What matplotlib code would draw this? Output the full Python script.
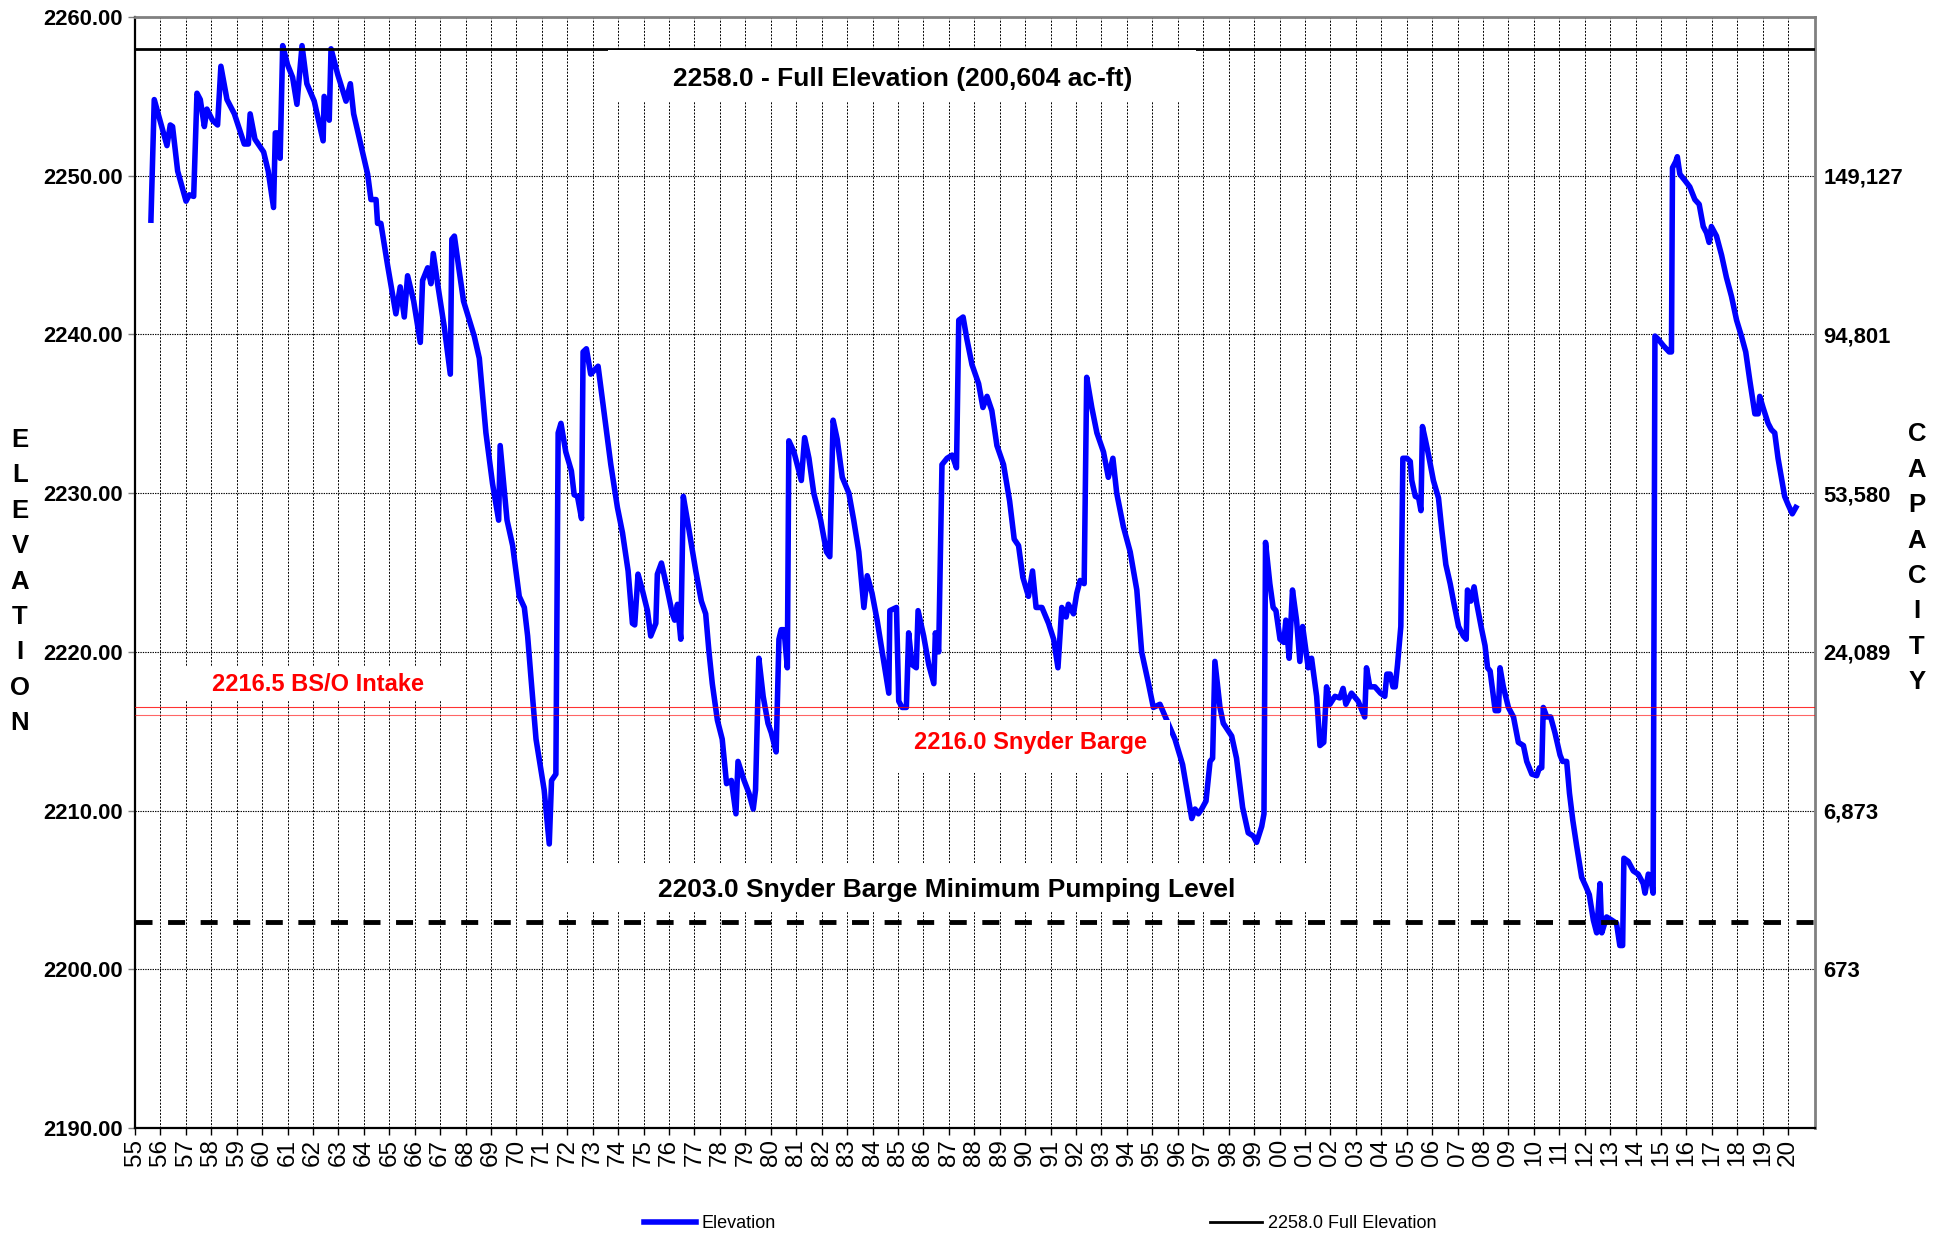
import matplotlib
matplotlib.use('Agg')
import matplotlib.pyplot as plt
from matplotlib.patches import Rectangle

plt.rcParams['font.family'] = ['Liberation Sans', 'DejaVu Sans']

# Lake elevation readings (decimal year, ft), split by period
yr_5571 = [1955.63, 1955.76, 1956.02, 1956.26, 1956.39, 1956.48, 1956.68, 1957.01, 1957.14, 1957.31,
           1957.44, 1957.57, 1957.73, 1957.83, 1958.05, 1958.25, 1958.38, 1958.62, 1958.91, 1959.30,
           1959.46, 1959.53, 1959.72, 1960.06, 1960.24, 1960.45, 1960.52, 1960.61, 1960.71, 1960.81,
           1961.00, 1961.20, 1961.37, 1961.57, 1961.76, 1962.05, 1962.40, 1962.44, 1962.64, 1962.71,
           1962.97, 1963.30, 1963.47, 1963.60, 1963.89, 1964.15, 1964.28, 1964.48, 1964.54, 1964.67,
           1964.93, 1965.26, 1965.43, 1965.59, 1965.72, 1965.96, 1966.22, 1966.31, 1966.51, 1966.64,
           1966.73, 1966.90, 1967.16, 1967.40, 1967.46, 1967.56, 1967.75, 1967.92, 1968.34, 1968.54,
           1968.80, 1969.06, 1969.30, 1969.36, 1969.63, 1969.85, 1970.11, 1970.31, 1970.44, 1970.57,
           1970.77, 1971.09, 1971.29, 1971.38, 1971.55, 1971.64, 1971.75]
el_5571 = [2247.2, 2254.8, 2253.3, 2251.9, 2253.2, 2253.1, 2250.3, 2248.4, 2248.8, 2248.7,
           2255.2, 2254.8, 2253.1, 2254.2, 2253.5, 2253.2, 2256.9, 2254.8, 2253.9, 2252.0,
           2252.0, 2253.9, 2252.3, 2251.5, 2250.3, 2248.0, 2252.7, 2252.7, 2251.1, 2258.2,
           2257.0, 2256.2, 2254.5, 2258.2, 2255.8, 2254.7, 2252.2, 2255.0, 2253.5, 2258.0,
           2256.4, 2254.7, 2255.8, 2253.9, 2251.9, 2250.1, 2248.5, 2248.5, 2247.0, 2247.0,
           2244.4, 2241.3, 2243.0, 2241.1, 2243.7, 2242.1, 2239.5, 2243.4, 2244.2, 2243.2,
           2245.1, 2243.2, 2240.5, 2237.5, 2246.0, 2246.2, 2244.0, 2242.1, 2239.9, 2238.5,
           2233.8, 2230.6, 2228.3, 2233.0, 2228.3, 2226.7, 2223.5, 2222.8, 2221.0, 2218.4,
           2214.5, 2211.3, 2207.9, 2211.9, 2212.3, 2233.8, 2234.4]

yr_7187 = [1971.94, 1972.16, 1972.27, 1972.40, 1972.56, 1972.62, 1972.75, 1972.92, 1973.21, 1973.45,
           1973.71, 1973.97, 1974.17, 1974.39, 1974.56, 1974.65, 1974.78, 1974.95, 1975.15, 1975.28,
           1975.48, 1975.54, 1975.70, 1975.91, 1976.13, 1976.22, 1976.33, 1976.46, 1976.56, 1976.72,
           1977.05, 1977.27, 1977.44, 1977.57, 1977.70, 1977.90, 1978.09, 1978.26, 1978.45, 1978.63,
           1978.71, 1978.95, 1979.14, 1979.31, 1979.40, 1979.53, 1979.70, 1979.89, 1980.02, 1980.21,
           1980.32, 1980.41, 1980.52, 1980.65, 1980.71, 1980.91, 1981.20, 1981.33, 1981.50, 1981.69,
           1981.96, 1982.19, 1982.32, 1982.45, 1982.61, 1982.81, 1983.07, 1983.26, 1983.46, 1983.66,
           1983.79, 1983.98, 1984.18, 1984.38, 1984.64, 1984.68, 1984.94, 1985.03, 1985.16, 1985.33,
           1985.42, 1985.55, 1985.72, 1985.79, 1986.01, 1986.21, 1986.41, 1986.47, 1986.60, 1986.73,
           1986.93, 1987.13, 1987.30, 1987.39, 1987.56]
el_7187 = [2232.6, 2231.4, 2229.9, 2229.8, 2228.4, 2238.9, 2239.1, 2237.5, 2238.0, 2235.0,
           2231.8, 2229.1, 2227.5, 2225.1, 2221.8, 2221.7, 2224.9, 2223.9, 2222.6, 2221.0,
           2221.8, 2224.9, 2225.6, 2224.1, 2222.4, 2222.0, 2223.0, 2220.8, 2229.8, 2228.3,
           2225.1, 2223.2, 2222.4, 2220.0, 2218.0, 2215.7, 2214.5, 2211.7, 2211.9, 2209.8,
           2213.1, 2211.9, 2211.1, 2210.1, 2211.3, 2219.6, 2217.2, 2215.5, 2214.9, 2213.7,
           2220.8, 2221.4, 2221.4, 2219.0, 2233.3, 2232.6, 2230.8, 2233.5, 2232.2, 2230.0,
           2228.3, 2226.3, 2226.0, 2234.6, 2233.4, 2231.0, 2230.0, 2228.3, 2226.3, 2222.8,
           2224.8, 2223.7, 2222.0, 2220.0, 2217.4, 2222.6, 2222.8, 2216.9, 2216.5, 2216.5,
           2221.2, 2219.2, 2219.0, 2222.6, 2221.0, 2219.2, 2218.0, 2221.2, 2220.0, 2231.8,
           2232.2, 2232.4, 2231.6, 2240.9, 2241.1]

yr_8804 = [1987.71, 1987.91, 1988.17, 1988.34, 1988.50, 1988.69, 1988.89, 1989.15, 1989.39, 1989.57,
           1989.74, 1989.91, 1990.13, 1990.29, 1990.43, 1990.66, 1990.92, 1991.12, 1991.29, 1991.44,
           1991.61, 1991.70, 1991.90, 1992.03, 1992.16, 1992.32, 1992.42, 1992.62, 1992.82, 1993.08,
           1993.27, 1993.45, 1993.60, 1993.86, 1994.13, 1994.39, 1994.58, 1994.85, 1995.04, 1995.30,
           1995.57, 1995.89, 1996.19, 1996.55, 1996.68, 1996.81, 1996.94, 1997.11, 1997.27, 1997.37,
           1997.46, 1997.66, 1997.79, 1998.12, 1998.31, 1998.55, 1998.77, 1998.97, 1999.10, 1999.30,
           1999.39, 1999.45, 1999.62, 1999.75, 1999.86, 2000.02, 2000.17, 2000.25, 2000.38, 2000.51,
           2000.67, 2000.80, 2000.91, 2001.13, 2001.26, 2001.46, 2001.59, 2001.74, 2001.85, 2001.98,
           2002.18, 2002.37, 2002.50, 2002.61, 2002.83, 2003.09, 2003.35, 2003.42, 2003.55, 2003.75,
           2003.97, 2004.14]
el_8804 = [2239.7, 2238.1, 2236.9, 2235.4, 2236.1, 2235.2, 2233.0, 2231.8, 2229.5, 2227.1,
           2226.7, 2224.7, 2223.5, 2225.1, 2222.8, 2222.8, 2221.8, 2220.8, 2219.0, 2222.8,
           2222.2, 2223.0, 2222.4, 2223.7, 2224.5, 2224.3, 2237.3, 2235.4, 2233.8, 2232.6,
           2231.0, 2232.2, 2230.0, 2227.9, 2226.3, 2223.9, 2220.0, 2218.0, 2216.5, 2216.7,
           2215.7, 2214.5, 2212.9, 2209.5, 2210.1, 2209.8, 2210.1, 2210.6, 2213.1, 2213.3,
           2219.4, 2216.5, 2215.5, 2214.7, 2213.3, 2210.2, 2208.6, 2208.4, 2208.0, 2209.0,
           2209.8, 2226.9, 2224.3, 2222.8, 2222.6, 2220.8, 2220.6, 2222.0, 2219.6, 2223.9,
           2222.0, 2219.4, 2221.6, 2219.0, 2219.6, 2217.2, 2214.1, 2214.3, 2217.8, 2216.7,
           2217.2, 2217.1, 2217.7, 2216.7, 2217.4, 2216.9, 2215.9, 2219.0, 2217.8, 2217.8,
           2217.4, 2217.2]

yr_0420 = [2004.22, 2004.35, 2004.46, 2004.55, 2004.64, 2004.77, 2004.85, 2005.01, 2005.14, 2005.20,
           2005.34, 2005.47, 2005.56, 2005.62, 2005.73, 2005.86, 2006.05, 2006.25, 2006.38, 2006.54,
           2006.71, 2006.84, 2007.04, 2007.23, 2007.34, 2007.39, 2007.52, 2007.65, 2007.76, 2007.95,
           2008.08, 2008.18, 2008.28, 2008.48, 2008.61, 2008.67, 2008.80, 2009.00, 2009.20, 2009.39,
           2009.59, 2009.72, 2009.92, 2010.11, 2010.22, 2010.31, 2010.37, 2010.51, 2010.66, 2010.83,
           2011.03, 2011.13, 2011.29, 2011.40, 2011.53, 2011.68, 2011.88, 2012.05, 2012.18, 2012.34,
           2012.47, 2012.60, 2012.67, 2012.86, 2013.06, 2013.25, 2013.38, 2013.49, 2013.54, 2013.71,
           2013.91, 2014.10, 2014.30, 2014.37, 2014.50, 2014.59, 2014.69, 2014.76, 2014.89, 2015.09,
           2015.32, 2015.41, 2015.45, 2015.58, 2015.64, 2015.74, 2015.94, 2016.13, 2016.33, 2016.50,
           2016.66, 2016.79, 2016.89, 2016.98, 2017.18, 2017.38, 2017.57, 2017.77, 2017.97, 2018.16,
           2018.33, 2018.49, 2018.69, 2018.82, 2018.88, 2019.01, 2019.21, 2019.34, 2019.47, 2019.60,
           2019.73, 2019.86, 2019.99, 2020.16, 2020.30]
el_0420 = [2218.6, 2218.6, 2217.8, 2217.8, 2219.2, 2221.6, 2232.2, 2232.2, 2232.0, 2230.8,
           2229.8, 2229.7, 2228.9, 2234.2, 2233.4, 2232.4, 2230.8, 2229.7, 2227.7, 2225.5,
           2224.3, 2223.2, 2221.6, 2221.0, 2220.8, 2223.9, 2223.2, 2224.1, 2223.0, 2221.4,
           2220.4, 2219.0, 2218.8, 2216.3, 2216.3, 2219.0, 2217.8, 2216.5, 2215.9, 2214.3,
           2214.1, 2213.1, 2212.3, 2212.2, 2212.7, 2212.7, 2216.5, 2215.9, 2215.9, 2214.9,
           2213.5, 2213.1, 2213.1, 2211.1, 2209.4, 2207.8, 2205.8, 2205.2, 2204.7, 2203.1,
           2202.3, 2205.4, 2202.3, 2203.3, 2203.1, 2202.9, 2201.5, 2201.5, 2207.0, 2206.8,
           2206.2, 2206.0, 2205.4, 2204.8, 2206.0, 2205.8, 2204.8, 2239.9, 2239.7, 2239.3,
           2238.9, 2238.9, 2250.5, 2250.9, 2251.2, 2250.1, 2249.7, 2249.3, 2248.5, 2248.2,
           2246.8, 2246.4, 2245.8, 2246.8, 2246.2, 2245.0, 2243.6, 2242.4, 2240.9, 2239.9,
           2238.9, 2237.1, 2235.0, 2235.0, 2236.1, 2235.4, 2234.4, 2234.0, 2233.8, 2232.2,
           2231.0, 2229.8, 2229.3, 2228.7, 2229.1]

years = yr_5571 + yr_7187 + yr_8804 + yr_0420
elevation = el_5571 + el_7187 + el_8804 + el_0420

# Reference levels (ft)
full_level = 2258.0
bso_level = 2216.5
barge_level = 2216.0
min_pump_level = 2203.0

# Axes ticks
elev_ticks = [2190, 2200, 2210, 2220, 2230, 2240, 2250, 2260]
cap_ticks = [2200, 2210, 2220, 2230, 2240, 2250]
cap_labels = ['673', '6,873', '24,089', '53,580', '94,801', '149,127']
tick_years = list(range(1955, 2021))

fig = plt.figure(figsize=(19.44, 12.35), dpi=100)
ax = fig.add_axes([0.0694, 0.0866, 0.8642, 0.8996])

ax.set_xlim(1955, 2021.05)
ax.set_ylim(2190, 2260)

# Grid
ax.set_xticks(tick_years)
ax.set_xticklabels([f'{y % 100:02d}' for y in tick_years], rotation=90, fontsize=17.5)
ax.set_yticks(elev_ticks)
ax.set_yticklabels([f'{v:.2f}' for v in elev_ticks], fontsize=15.8, fontweight='bold')
ax.grid(axis='x', color='black', linestyle=(0, (2.0, 1.5)), linewidth=0.7)
ax.grid(axis='y', color='black', linestyle=(0, (1.2, 1.0)), linewidth=0.8)
ax.tick_params(axis='y', length=5, width=1, color='#808080', pad=4)
ax.tick_params(axis='x', length=5, width=1, color='black', pad=3)

# Elevation trace
elev_line, = ax.plot(years, elevation, color='#0000ff', lw=4, zorder=3,
                     solid_joinstyle='round', label='Elevation')

# Reference lines
full_line = ax.axhline(full_level, color='black', lw=2, zorder=3.5, label='2258.0 Full Elevation')
ax.axhline(bso_level, color='red', lw=0.8, alpha=0.8, zorder=3.5)
ax.axhline(barge_level, color='red', lw=0.8, alpha=0.6, zorder=3.5)
ax.axhline(min_pump_level, color='black', lw=3.5, dashes=(3.5, 3.2), zorder=3.5)

# Labels with white backing boxes: box (x0, x1, y0, y1) and text centre, in data units
labels = [
    ('2258.0 - Full Elevation (200,604 ac-ft)', 'black', 19,
     (1973.6, 1996.7, 2254.7, 2257.95), (1985.2, 2256.1)),
    ('2216.5 BS/O Intake', 'red', 17,
     (1956.4, 1967.8, 2216.9, 2219.1), (1962.2, 2217.95)),
    ('2216.0 Snyder Barge', 'red', 17,
     (1984.5, 1995.7, 2212.4, 2215.7), (1990.2, 2214.3)),
    ('2203.0 Snyder Barge Minimum Pumping Level', 'black', 19,
     (1971.5, 2001.2, 2203.6, 2206.7), (1986.9, 2205.0)),
]
for text, color, size, (x0, x1, y0, y1), (tx, ty) in labels:
    ax.add_patch(Rectangle((x0, y0), x1 - x0, y1 - y0, facecolor='white',
                           edgecolor='none', zorder=4))
    ax.text(tx, ty, text, color=color, fontsize=size,
            fontweight='bold', ha='center', va='center', zorder=5)

# Spines
for side in ['left', 'bottom']:
    ax.spines[side].set_color('black')
    ax.spines[side].set_linewidth(1.6)
for side in ['top', 'right']:
    ax.spines[side].set_color('#808080')
    ax.spines[side].set_linewidth(2)

# Capacity axis on the right
ax2 = ax.twinx()
ax2.set_ylim(ax.get_ylim())
ax2.set_yticks(cap_ticks)
ax2.set_yticklabels(cap_labels, fontsize=15.8, fontweight='bold')
ax2.tick_params(axis='y', length=0, pad=6)
for s in ax2.spines.values():
    s.set_visible(False)

fig.text(0.0103, 0.529, '\n'.join('ELEVATION'), ha='center', va='center',
         fontsize=18.5, fontweight='bold', linespacing=1.6)
fig.text(0.986, 0.548, '\n'.join('CAPACITY'), ha='center', va='center',
         fontsize=18.5, fontweight='bold', linespacing=1.6)

fig.legend(handles=[elev_line, full_line], loc='center', bbox_to_anchor=(0.535, 0.009),
           ncol=2, frameon=False, fontsize=13, handlelength=2.9, handletextpad=0.33,
           columnspacing=24)

fig.savefig('out.png', dpi=100)
